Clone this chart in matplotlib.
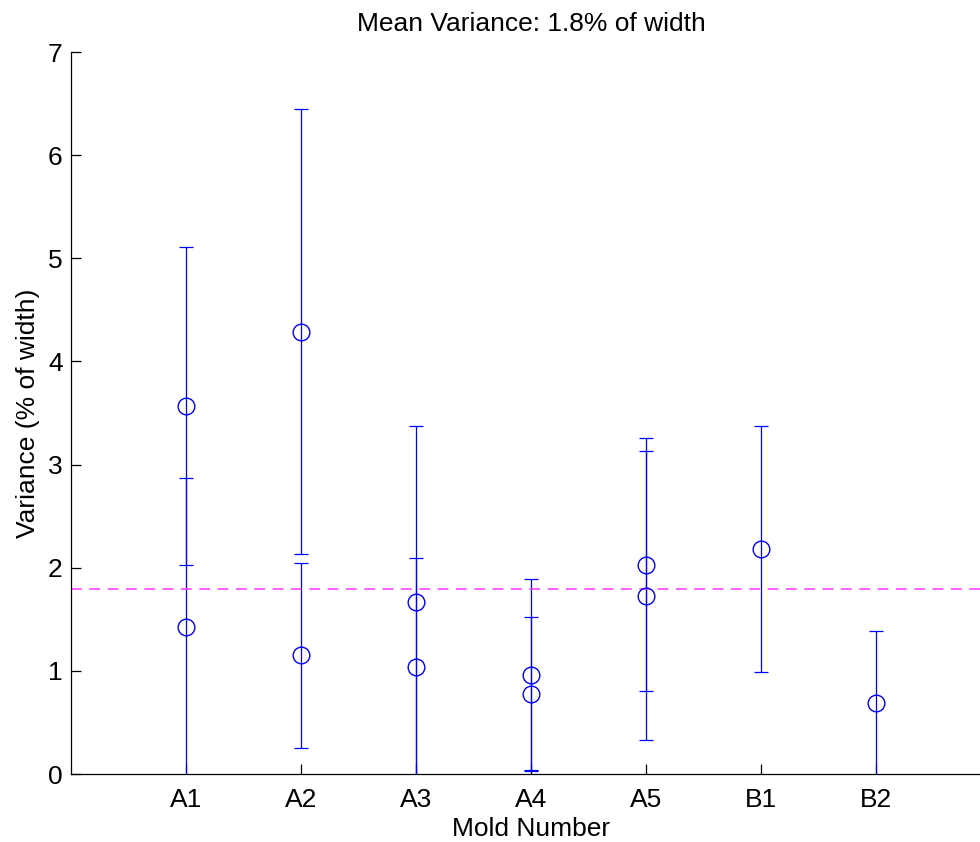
import matplotlib.pyplot as plt

plt.rcParams['font.family'] = ['Liberation Sans', 'DejaVu Sans']

molds = ['A1', 'A2', 'A3', 'A4', 'A5', 'B1', 'B2']

# two measurements per mold where available (mean variance and spread)
pos_a = [1, 2, 3, 4, 5, 6, 7]
var_a = [3.57, 4.29, 1.67, 0.96, 2.03, 2.18, 0.69]
err_a = [1.54, 2.16, 1.70, 0.93, 1.23, 1.19, 0.70]

pos_b = [1, 2, 3, 4, 5]
var_b = [1.43, 1.15, 1.04, 0.78, 1.73]
err_b = [1.44, 0.90, 1.05, 0.74, 1.40]

mean_var = 1.79

fig = plt.figure(figsize=(9.8, 8.42), dpi=100)
ax = fig.add_axes([71 / 980, 68 / 842, 920 / 980, 722 / 842])

style = dict(fmt='o', color='blue', mfc='none', mec='blue', ms=12,
             lw=0.9, capsize=5, capthick=0.9, clip_on=True)
ax.errorbar(pos_a, var_a, yerr=err_a, **style)
ax.errorbar(pos_b, var_b, yerr=err_b, **style)

ax.axhline(mean_var, color='#ff33ff', ls=(0, (7, 5)), lw=1.1)

ax.set_xlim(0, 8)
ax.set_ylim(0, 7)
ax.set_xticks(range(1, 8))
ax.set_xticklabels(molds)
ax.set_yticks(range(0, 8))

for s in ['top', 'right']:
    ax.spines[s].set_visible(False)
for s in ['left', 'bottom']:
    ax.spines[s].set_linewidth(0.9)
ax.tick_params(direction='in', length=7, width=0.9, labelsize=19)
ax.tick_params(axis='x', pad=10)
ax.tick_params(axis='y', pad=6)

ax.set_xlabel('Mold Number', fontsize=19, labelpad=4)
ax.set_ylabel('Variance (% of width)', fontsize=19, labelpad=6)
ax.set_title('Mean Variance: 1.8% of width', fontsize=19, pad=15)

fig.savefig('out.png', dpi=100)
